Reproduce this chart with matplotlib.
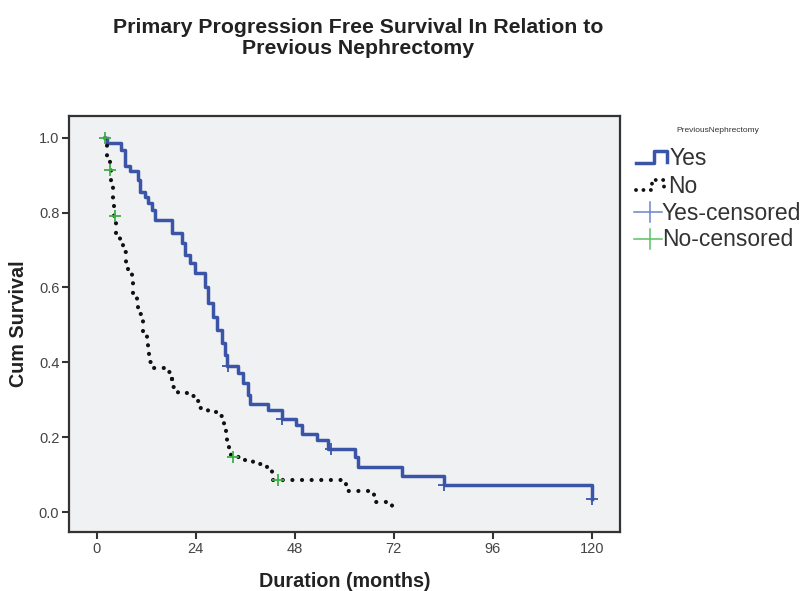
import numpy as np
import matplotlib
matplotlib.use("Agg")
import matplotlib.pyplot as plt
from matplotlib.lines import Line2D
from matplotlib.transforms import Affine2D

plt.rcParams['font.family'] = ['Liberation Sans', 'DejaVu Sans']

# ---- data ----
yes_times = [2.4, 2.5, 6.0, 6.9, 8.1, 10.1, 10.5, 11.7, 12.5, 13.3, 14.1, 18.2, 20.6, 21.4,
             22.6, 23.8, 26.2, 27.0, 28.2, 29.1, 30.3, 31.1, 31.5, 34.3, 35.5, 36.7, 37.1,
             41.6, 44.8, 48.4, 49.7, 53.5, 56.1, 62.6, 63.4, 73.9, 84.1, 120.0]
yes_surv = [1.0, 0.985, 0.968, 0.925, 0.91, 0.888, 0.856, 0.843, 0.825, 0.807, 0.78, 0.745,
            0.718, 0.687, 0.665, 0.638, 0.602, 0.559, 0.522, 0.487, 0.452, 0.42, 0.39, 0.371,
            0.344, 0.313, 0.29, 0.273, 0.25, 0.233, 0.21, 0.193, 0.17, 0.148, 0.121, 0.096,
            0.072, 0.036]
yes_censored = [31.9, 44.8, 56.9, 84.1, 120.0]

no_times = [2.0, 2.5, 3.2, 3.5, 4.0, 4.3, 4.7, 5.6, 6.4, 7.0, 7.6, 8.5, 8.9, 9.7, 9.9, 10.9,
            11.3, 12.1, 12.5, 12.8, 14.0, 16.4, 17.8, 18.2, 19.8, 22.2, 24.2, 24.8, 27.0,
            29.1, 30.5, 30.9, 31.3, 31.6, 32.1, 32.6, 35.5, 37.9, 41.2, 42.5, 59.2, 60.5,
            67.2, 71.5, 72.8]
no_surv = [1.0, 0.94, 0.915, 0.87, 0.83, 0.79, 0.74, 0.72, 0.695, 0.665, 0.64, 0.615, 0.585,
           0.56, 0.53, 0.51, 0.48, 0.455, 0.43, 0.40, 0.385, 0.375, 0.355, 0.333, 0.318,
           0.31, 0.298, 0.277, 0.268, 0.258, 0.243, 0.224, 0.20, 0.18, 0.16, 0.148, 0.139,
           0.128, 0.11, 0.086, 0.077, 0.057, 0.028, 0.014, 0.014]
no_censored = [2.0, 3.2, 4.4, 33.1, 44.0]

group_labels = ["Yes", "No", "Yes-censored", "No-censored"]
legend_title = "PreviousNephrectomy"
x_ticks = [0, 24, 48, 72, 96, 120]
y_ticks = [0.0, 0.2, 0.4, 0.6, 0.8, 1.0]

BLUE = "#3a55a8"
GREEN = "#3fae49"
BG = "#f0f1f3"


def step_value(times, surv, t):
    idx = np.searchsorted(np.asarray(times), t, side='right') - 1
    idx = max(idx, 0)
    return surv[idx]


fig = plt.figure(figsize=(8.03, 5.91), dpi=100)
W, H = 803, 591
ax = fig.add_axes([69 / W, 1 - 532 / H, (620 - 69) / W, (532 - 116) / H])
ax.set_facecolor(BG)

ax.step(yes_times, yes_surv, where='post', color=BLUE, lw=2.5, zorder=3)
ax.step(no_times, no_surv, where='post', color='#111111', lw=3.0,
        linestyle=(0, (0.01, 2.3)), dash_capstyle='round', zorder=3)

yc = [step_value(yes_times, yes_surv, t) for t in yes_censored]
nc = [step_value(no_times, no_surv, t) for t in no_censored]
ax.plot(yes_censored, yc, ls='none', marker='+', ms=8, mew=1.3, color=BLUE, zorder=4)
ax.plot(no_censored, nc, ls='none', marker='+', ms=8, mew=1.3, color=GREEN, zorder=4)

ax.set_xlim(-6.7, 126.8)
ax.set_ylim(-0.053, 1.058)
ax.set_xticks(x_ticks)
ax.set_xticklabels([str(v) for v in x_ticks])
ax.set_yticks(y_ticks)
ax.set_yticklabels([f"{v:.1f}" for v in y_ticks])
ax.tick_params(direction='out', length=5, width=1.5, color='#333333',
               labelsize=10.5, labelcolor='#444444', pad=2)
for s in ax.spines.values():
    s.set_color('#333333')
    s.set_linewidth(1.6)

ax.set_xlabel("Duration (months)", fontsize=14.2, fontweight='bold', color='#222222', labelpad=12)
ax.set_ylabel("Cum Survival", fontsize=14.2, fontweight='bold', color='#222222', labelpad=8)

fig.text(358 / W, 1 - 38 / H, "Primary Progression Free Survival In Relation to\nPrevious Nephrectomy",
         ha='center', va='center', fontsize=15.3, fontweight='bold', color='#222222',
         linespacing=1.08)

# ---- manual legend (figure pixel coords) ----
px = Affine2D().scale(1.0 / W, 1.0 / H) + fig.transFigure

fig.text(718 / W, 1 - 131 / H, legend_title, ha='center', va='center', fontsize=6, color='#333333')

# Yes handle: step shape
xs = [636, 654, 654, 667, 667]
ys = [163, 163, 151, 151, 162]
fig.add_artist(Line2D(xs, [H - v for v in ys], transform=px, color=BLUE, lw=2.5))
# No handle: dotted step
xs = [636, 652, 652, 664, 664]
ys = [190, 190, 180, 180, 190]
fig.add_artist(Line2D(xs, [H - v for v in ys], transform=px, color='#111111', lw=2.8,
                      linestyle=(0, (0.01, 1.9)), dash_capstyle='round'))
# censored handles
for yy, col in [(212, "#6f84cc"), (239, "#5cc066")]:
    fig.add_artist(Line2D([634, 662], [H - yy, H - yy], transform=px, color=col, lw=1.1))
    fig.add_artist(Line2D([650, 650], [H - yy + 10, H - yy - 10], transform=px, color=col, lw=1.1))

for yy, xx, lab in zip([158, 186, 213, 240], [670, 668, 662, 662], group_labels):
    fig.text(xx / W, 1 - yy / H, lab, ha='left', va='center', fontsize=16.5, color='#333333')

fig.savefig("out.png", dpi=100, facecolor='white')
